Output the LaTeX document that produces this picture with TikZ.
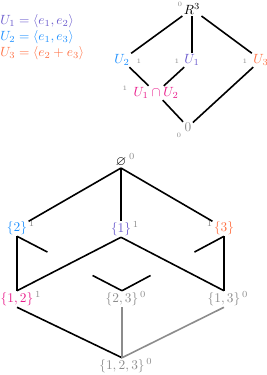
\documentclass[tikz,border=0pt]{standalone}
\usepackage{amssymb}
\usetikzlibrary{calc}
\definecolor{cA}{HTML}{6A5ACD}
\definecolor{cB}{HTML}{1E90FF}
\definecolor{cC}{HTML}{FF7043}
\definecolor{cM}{HTML}{E91E8C}
\definecolor{cG}{HTML}{8C8C8C}
\tikzset{
  lbl/.style={inner sep=1pt},
  num/.style={inner sep=0pt, text=cG, font=\tiny},
  sup/.style={inner sep=0pt, text=cG, font=\scriptsize},
  edge/.style={line width=1.2pt, black},
  gedge/.style={line width=1.2pt, cG},
}
\begin{document}
\begin{tikzpicture}[x=0.75pt,y=-0.75pt]
\useasboundingbox (0,0) rectangle (267,375);
% legend
\node[anchor=north west, align=left, inner sep=0pt] (leg) at (0,14) {%
  \textcolor{cA}{$U_1=\langle e_1,e_2\rangle$}\\
  \textcolor{cB}{$U_2=\langle e_1,e_3\rangle$}\\
  \textcolor{cC}{$U_3=\langle e_2+e_3\rangle$}};
% top lattice
\node[lbl] (r) at (192,9) {$R^3$};
\node[num] (rn) at (180,4) {0};
\node[lbl, text=cB] (u2) at (122,60) {$U_2$};
\node[num] (u2n) at (139,61) {1};
\node[lbl, text=cA] (u1) at (192,60) {$U_1$};
\node[num] (u1n) at (177,61) {1};
\node[lbl, text=cC] (u3) at (261,60) {$U_3$};
\node[num] (u3n) at (245,61) {1};
\node[lbl, text=cM] (cap) at (156,93) {$U_1\cap U_2$};
\node[num] (capn) at (125,88) {1};
\node[lbl, text=cG] (z) at (188,127) {$0$};
\node[num] (zn) at (179,135) {0};
\draw[edge] (r) -- (u2);
\draw[edge] (r) -- (u1);
\draw[edge] (r) -- (u3);
\draw[edge] (u2) -- (cap);
\draw[edge] (u1) -- (cap);
\draw[edge] (cap) -- (z);
\draw[edge] (u3) -- (z);
% cube
\node[lbl] (e) at (121,162) {$\varnothing$};
\node[lbl, text=cB] (n2) at (17,228) {$\{2\}$};
\node[lbl, text=cA] (n1) at (121,229) {$\{1\}$};
\node[lbl, text=cC] (n3) at (224,228) {$\{3\}$};
\node[lbl, text=cM] (n12) at (17,299) {$\{1,2\}$};
\node[lbl, text=cG] (n23) at (122,299) {$\{2,3\}$};
\node[lbl, text=cG] (n13) at (224,299) {$\{1,3\}$};
\node[lbl, text=cG] (n123) at (122,366) {$\{1,2,3\}$};
\node[sup, anchor=base west] at ($(e.base east)+(1,-6)$) {0};
\node[sup, anchor=base west] at ($(n2.base east)+(0,-5)$) {1};
\node[sup, anchor=base west] at ($(n1.base east)+(0,-5)$) {1};
\node[sup, anchor=base east] at ($(n3.base west)+(0,-5)$) {1};
\node[sup, anchor=base west] at ($(n12.base east)+(0,-5)$) {1};
\node[sup, anchor=base west] at ($(n23.base east)+(0,-5)$) {0};
\node[sup, anchor=base west] at ($(n13.base east)+(0,-5)$) {0};
\node[sup, anchor=base west] at ($(n123.base east)+(0,-5)$) {0};
\draw[edge] (e.south) -- (n2);
\draw[edge] (e.south) -- (n1);
\draw[edge] (e.south) -- (n3);
\draw[edge] (n2.south) -- (n12.north);
\draw[edge] (n3.south) -- (n13.north);
\draw[edge] (n1.south) -- (n12.north);
\draw[edge] (n1.south) -- (n13.north);
\draw[edge] (n2.south) -- ($(n2.south)!0.29!(n23.north)$);
\draw[edge] ($(n2.south)!0.72!(n23.north)$) -- (n23.north);
\draw[edge] (n3.south) -- ($(n3.south)!0.29!(n23.north)$);
\draw[edge] ($(n3.south)!0.72!(n23.north)$) -- (n23.north);
\draw[edge] (n12.south) -- (n123.north);
\draw[gedge] (n23.south) -- (n123.north);
\draw[gedge] (n13.south) -- (n123.north);
\end{tikzpicture}
\end{document}
